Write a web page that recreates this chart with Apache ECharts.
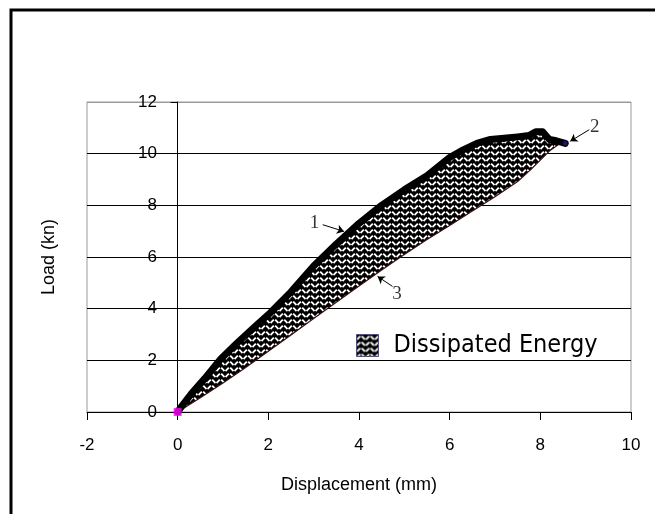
<!DOCTYPE html>
<html lang="en">
<head>
    <meta charset="utf-8">
    <title>Dissipated Energy</title>
    <script src="https://cdn.jsdelivr.net/npm/echarts@6/dist/echarts.min.js"></script>
    <style>
        body { margin: 0; background: #fff; }
        #chart { width: 655px; height: 514px; }
    </style>
</head>
<body>
<div id="chart"></div>
<script>
    // loading curve (1 -> 2)
    const upperX = [0, 0.1, 0.3, 0.6, 0.95, 1.3, 1.7, 2.05, 2.5, 3.0, 3.5, 4.0, 4.5, 5.0, 5.5, 6.0, 6.3, 6.6, 6.9, 7.2, 7.5, 7.75, 7.9, 8.05, 8.2, 8.35, 8.55];
    const upperY = [0, 0.25, 0.7, 1.3, 2.05, 2.65, 3.3, 3.85, 4.65, 5.65, 6.5, 7.3, 8.0, 8.6, 9.15, 9.85, 10.15, 10.4, 10.55, 10.6, 10.65, 10.7, 10.85, 10.85, 10.55, 10.5, 10.4];
    // unloading curve (3)
    const lowerX = [0, 0.5, 1.0, 1.5, 2.0, 2.5, 3.0, 3.5, 4.0, 4.5, 5.0, 5.5, 6.0, 6.5, 7.0, 7.5, 7.8, 8.0, 8.2, 8.4, 8.55];
    const lowerY = [0, 0.55, 1.12, 1.72, 2.35, 2.98, 3.62, 4.25, 4.88, 5.5, 6.1, 6.68, 7.22, 7.78, 8.33, 8.92, 9.4, 9.75, 10.1, 10.35, 10.42];
    const xTicks = [-2, 0, 2, 4, 6, 8, 10];
    const yTicks = [0, 2, 4, 6, 8, 10, 12];
    // annotation labels and their arrows
    const noteText = ['1', '2', '3'];
    const noteX = [3.02, 9.2, 4.84];
    const noteY = [7.3, 11.05, 4.55];
    const arrowFrom = [[3.2, 7.25], [9.08, 10.93], [4.74, 4.86]];
    const arrowTo = [[3.67, 6.99], [8.66, 10.48], [4.41, 5.25]];

    // herringbone hatch
    const tile = document.createElement('canvas');
    tile.width = 9;
    tile.height = 6;
    const g = tile.getContext('2d');
    g.fillStyle = '#000';
    g.fillRect(0, 0, 9, 6);
    g.strokeStyle = '#fff';
    g.lineWidth = 1.8;
    g.beginPath();
    g.moveTo(0.5, 5); g.lineTo(3.8, 1.6);
    g.moveTo(5.2, 1.6); g.lineTo(8.5, 5);
    g.stroke();
    const hatch = { image: tile, repeat: 'repeat' };

    const upper = upperX.map((x, i) => [x, upperY[i]]);
    const lower = lowerX.map((x, i) => [x, lowerY[i]]);
    const loop = upper.concat(lower.slice().reverse());

    const font = '"Liberation Sans", Arial, sans-serif';
    const chart = echarts.init(document.getElementById('chart'));
    chart.setOption({
        animation: false,
        grid: {
            left: 87, right: 24, top: 102, bottom: 102,
            outerBoundsMode: 'none',
            show: true, borderColor: '#9a9a9a', borderWidth: 1
        },
        graphic: [{
            type: 'rect',
            shape: { x: 11, y: 10, width: 700, height: 560 },
            style: { fill: 'none', stroke: '#000', lineWidth: 3 }
        }],
        legend: {
            left: 351, top: 328,
            itemWidth: 22, itemHeight: 22, itemGap: 10,
            textStyle: {
                fontFamily: '"DejaVu Sans Condensed", "DejaVu Sans", sans-serif',
                fontSize: 25, color: '#000', padding: [0, 0, 0, 10]
            },
            data: [{ name: 'Dissipated Energy', icon: 'rect', itemStyle: { color: hatch, borderColor: '#4a4a9a', borderWidth: 1 } }]
        },
        xAxis: {
            type: 'value', min: xTicks[0], max: xTicks[xTicks.length - 1], interval: 2,
            name: 'Displacement (mm)', nameLocation: 'middle', nameGap: 64,
            nameTextStyle: { fontFamily: font, fontSize: 18, color: '#000' },
            axisLine: { lineStyle: { color: '#000', width: 1 } },
            axisTick: { inside: false, length: 8, lineStyle: { color: '#000' } },
            axisLabel: { fontFamily: font, fontSize: 17, color: '#000', margin: 25 },
            splitLine: { show: false }
        },
        yAxis: {
            type: 'value', min: yTicks[0], max: yTicks[yTicks.length - 1], interval: 2,
            name: 'Load (kn)', nameLocation: 'middle', nameRotate: 90, nameGap: 29,
            nameTextStyle: { fontFamily: font, fontSize: 18, color: '#000' },
            axisLine: { onZero: true, lineStyle: { color: '#000', width: 1 } },
            axisTick: { length: 7, lineStyle: { color: '#000' } },
            axisLabel: { fontFamily: font, fontSize: 17, color: '#000', margin: -70 },
            splitLine: { show: true, lineStyle: { color: ['#000', '#000', '#000', '#000', '#000', '#000', '#9a9a9a'], width: 1 } }
        },
        series: [{
            name: 'Dissipated Energy',
            type: 'custom',
            itemStyle: { color: hatch },
            data: [[0, 0]],
            z: 2,
            renderItem: function (params, api) {
                return {
                    type: 'polygon',
                    shape: { points: loop.map(p => api.coord(p)) },
                    style: { fill: hatch }
                };
            }
        }, {
            name: 'lower',
            type: 'line',
            data: lower,
            showSymbol: false,
            lineStyle: { color: '#3a1010', width: 1.2 },
            z: 3
        }, {
            name: 'upper',
            type: 'line',
            data: upper,
            showSymbol: false,
            lineStyle: { color: '#000', width: 7, join: 'round', cap: 'round' },
            z: 4,
            markLine: {
                silent: true,
                symbol: ['none', 'arrow'],
                symbolSize: 7,
                lineStyle: { color: '#000', width: 1, type: 'solid' },
                label: { show: false },
                data: arrowFrom.map((a, i) => [{ coord: a }, { coord: arrowTo[i] }])
            }
        }, {
            name: 'ends',
            type: 'scatter',
            symbol: 'rect',
            data: [
                { value: [upperX[0], upperY[0]], symbolSize: 8, itemStyle: { color: '#ff00ff' } },
                { value: [upperX[upperX.length - 1], upperY[upperY.length - 1]], symbolSize: 4, itemStyle: { color: '#1a1aa0' } }
            ],
            z: 5
        }, {
            name: 'notes',
            type: 'scatter',
            symbolSize: 0,
            data: noteText.map((t, i) => [noteX[i], noteY[i], t]),
            label: {
                show: true, position: 'inside',
                formatter: p => p.value[2],
                fontFamily: '"Liberation Serif", "DejaVu Serif", serif', fontSize: 19, color: '#000'
            },
            z: 6
        }]
    });
</script>
</body>
</html>
